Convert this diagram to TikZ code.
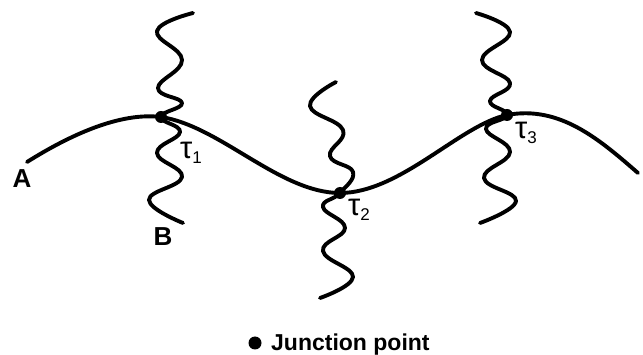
\documentclass[tikz,border=0pt]{standalone}
\usepackage{fontspec}
\setmainfont{Liberation Sans}
\newcommand{\taulab}[1]{{\fontsize{31}{31}\selectfont τ}{\fontsize{17}{17}\selectfont\raisebox{-5pt}{#1}}}
\begin{document}
\begin{tikzpicture}[x=1pt,y=-1pt,
  line/.style={line width=3.9pt, line cap=round, line join=round},
  jdot/.style={circle, fill=black, inner sep=0pt, minimum size=12pt},
  letter/.style={font=\fontsize{26}{26}\selectfont\bfseries, inner sep=0pt},
  tlab/.style={inner sep=0pt, anchor=base west}]
\useasboundingbox (0,0) rectangle (643,355);
% junction points
\node[jdot] (j1) at (161,117) {};
\node[jdot] (j2) at (340,193) {};
\node[jdot] (j3) at (507,115) {};
\coordinate (a) at (27,162);
\coordinate (e) at (638,173);
% main curve
\draw[line] (a) .. controls (70,135) and (120,112) .. (j1.center)
  .. controls (220,126) and (280,193) .. (j2.center)
  .. controls (400,193) and (460,125) .. (j3.center)
  .. controls (560,105) and (600,140) .. (e);
% wavy lines
\draw[line] plot[smooth, tension=0.75] coordinates {(193,13) (157,31) (182,60) (158,88) (182,103) (161,117) (180,132) (157,153) (182,177) (149,200) (183,223)};
\draw[line] plot[smooth, tension=0.75] coordinates {(336,82) (310,106) (343,130) (330,156) (353,172) (340,193) (323,207) (345,228) (323,251) (353,277) (320,298)};
\draw[line] plot[smooth, tension=0.75] coordinates {(476,13) (510,32) (482,60) (510,83) (490,101) (507,115) (486,129) (510,152) (484,178) (516,201) (480,223)};
% labels
\node[letter] (la) at (22,179) {A};
\node[letter] (lb) at (163,237) {B};
\node[tlab] (t1) at (180,159) {\taulab{1}};
\node[tlab] (t2) at (348,216) {\taulab{2}};
\node[tlab] (t3) at (515,139) {\taulab{3}};
% legend
\node[jdot, minimum size=13pt] (ld) at (255,343) {};
\node[inner sep=0pt, anchor=base west, font=\fontsize{23}{23}\selectfont\bfseries] (lt) at (271,351) {Junction point};
\end{tikzpicture}
\end{document}
